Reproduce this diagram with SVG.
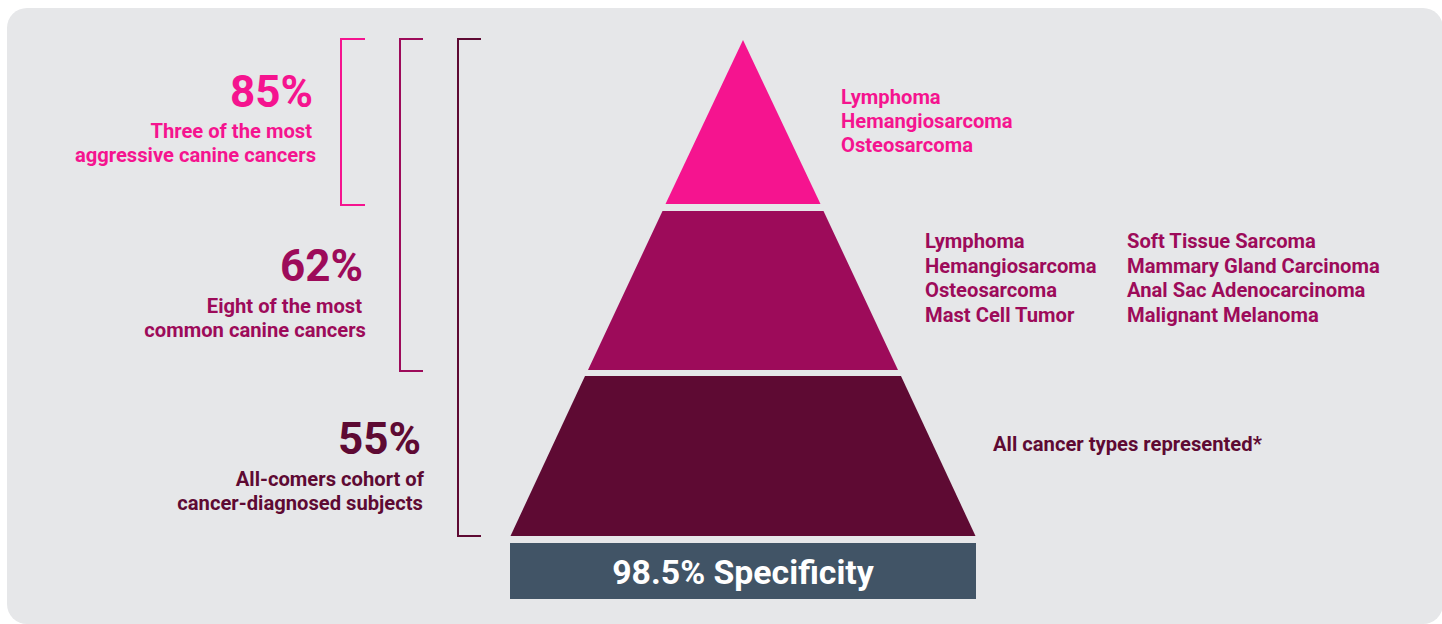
<svg xmlns="http://www.w3.org/2000/svg" width="1442" height="624" viewBox="0 0 1442 624">
<style>
text{font-family:Roboto,"Liberation Sans",sans-serif;font-weight:700}
.pk{fill:#F5148F}.mg{fill:#9D0B5A}.dk{fill:#5E0A33}
.big{font-size:44px}.lab{font-size:20.2px}
.r{text-anchor:end}
.br{fill:none;stroke-width:2}
</style>
<rect x="7" y="8" width="1436" height="616" rx="20" fill="#E6E7E9"/>
<g id="connectors">
<path class="br" stroke="#F5148F" d="M365 39H341V205H365"/>
<path class="br" stroke="#9D0B5A" d="M423 39H400V371H423"/>
<path class="br" stroke="#5E0A33" d="M481 39H458V536H481"/>
</g>
<g id="tier-top">
<polygon class="pk" points="743,40 820.5,204 665.5,204"/>
<text class="pk big r" x="313" y="107">85%</text>
<text class="pk lab r" x="316" y="138"><tspan x="312">Three of the most</tspan><tspan x="316" y="162">aggressive canine cancers</tspan></text>
<text class="pk lab" x="841" y="104"><tspan x="841">Lymphoma</tspan><tspan x="841" y="128">Hemangiosarcoma</tspan><tspan x="841" y="152">Osteosarcoma</tspan></text>
</g>
<g id="tier-middle">
<polygon class="mg" points="662.5,211 823.5,211 898,370 588,370"/>
<text class="mg big r" x="363" y="281">62%</text>
<text class="mg lab r" x="362" y="313"><tspan x="362">Eight of the most</tspan><tspan x="366" y="337">common canine cancers</tspan></text>
<text class="mg lab" x="925" y="248"><tspan x="925">Lymphoma</tspan><tspan x="925" y="272.5">Hemangiosarcoma</tspan><tspan x="925" y="297">Osteosarcoma</tspan><tspan x="925" y="321.5">Mast Cell Tumor</tspan></text>
<text class="mg lab" x="1127" y="248"><tspan x="1127">Soft Tissue Sarcoma</tspan><tspan x="1127" y="272.5">Mammary Gland Carcinoma</tspan><tspan x="1127" y="297">Anal Sac Adenocarcinoma</tspan><tspan x="1127" y="321.5">Malignant Melanoma</tspan></text>
</g>
<g id="tier-bottom">
<polygon class="dk" points="585,376 901,376 975.5,536 510.5,536"/>
<text class="dk big r" x="421" y="454">55%</text>
<text class="dk lab r" x="424" y="486"><tspan x="424">All-comers cohort of</tspan><tspan x="423" y="510">cancer-diagnosed subjects</tspan></text>
<text class="dk lab" x="993" y="450.5">All cancer types represented*</text>
</g>
<g id="specificity">
<rect x="510" y="543" width="466" height="56" fill="#415466"/>
<text x="743" y="584" font-size="33.8" fill="#FFFFFF" text-anchor="middle">98.5% Specificity</text>
</g>
</svg>
